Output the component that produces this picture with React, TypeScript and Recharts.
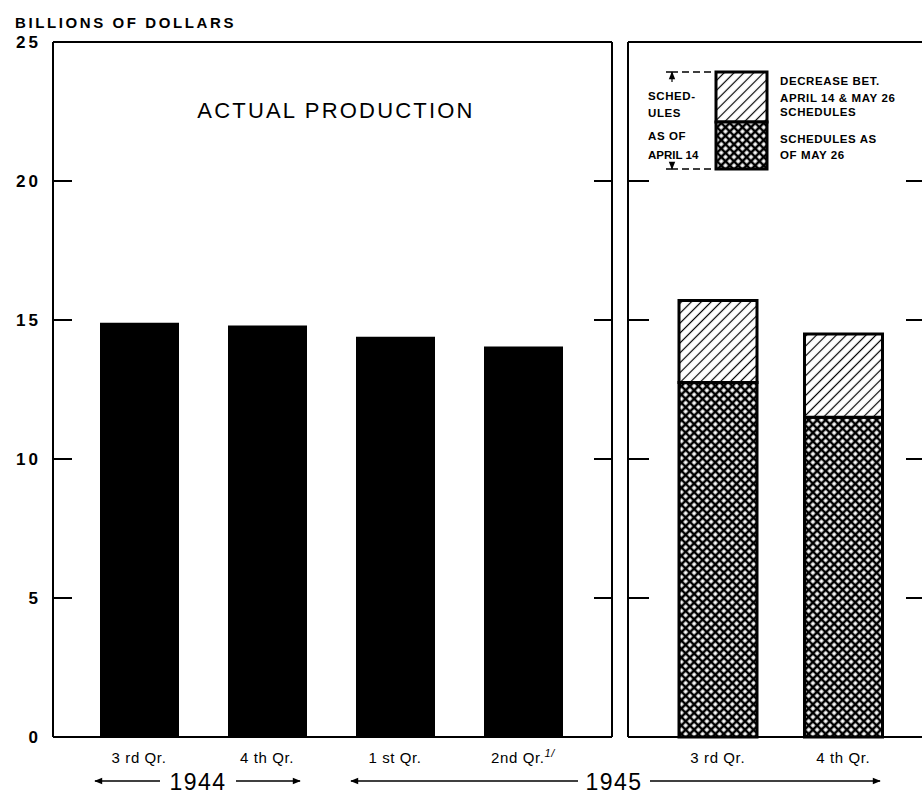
import { BarChart, Bar, XAxis, YAxis } from "recharts";

// values in billions of dollars
const actualQuarters = ["3 rd Qr.", "4 th  Qr.", "1 st  Qr.", "2nd  Qr."];
const actualProduction = [14.9, 14.8, 14.4, 14.05];

const scheduleQuarters = ["3 rd  Qr.", "4 th Qr."];
const schedulesApril14 = [15.7, 14.5];
const schedulesMay26 = [12.75, 11.5];

const yTicks = [0, 5, 10, 15, 20, 25];
const innerTicks = [5, 10, 15, 20];

const actualData = actualQuarters.map((q, i) => ({ q, value: actualProduction[i] }));
const scheduleData = scheduleQuarters.map((q, i) => ({
  q,
  may26: schedulesMay26[i],
  decrease: +(schedulesApril14[i] - schedulesMay26[i]).toFixed(2),
}));

const FONT = "'Liberation Sans', Arial, sans-serif";
const line = { stroke: "#000", strokeWidth: 2 };
const noLabel = () => <g />;

function QuarterTick(props: any) {
  const { x, y, payload } = props;
  const prelim = payload.value.startsWith("2nd");
  return (
    <text
      x={x}
      y={y + 18}
      textAnchor="middle"
      fontFamily={FONT}
      fontSize={15}
      letterSpacing={0.6}
      fill="#000"
    >
      {payload.value}
      {prelim && (
        <tspan dy={-6} fontSize={11} fontStyle="italic">
          1/
        </tspan>
      )}
    </text>
  );
}

function Patterns() {
  return (
    <svg width={0} height={0} style={{ position: "absolute" }}>
      <defs>
        <pattern id="hatch" width={7} height={7} patternUnits="userSpaceOnUse" patternTransform="rotate(45)">
          <rect width={7} height={7} fill="#fff" />
          <path d="M3.5 0 V7" stroke="#000" strokeWidth={1.2} />
        </pattern>
        <pattern id="xhatch" width={6} height={6} patternUnits="userSpaceOnUse" patternTransform="rotate(45)">
          <rect width={6} height={6} fill="#fff" />
          <path d="M3 0 V6 M0 3 H6" stroke="#000" strokeWidth={2.6} />
        </pattern>
        <marker id="arrow" viewBox="0 0 10 10" refX={9} refY={5} markerWidth={10} markerHeight={8} orient="auto-start-reverse" markerUnits="userSpaceOnUse">
          <path d="M0 1 L10 5 L0 9 Z" fill="#000" />
        </marker>
      </defs>
    </svg>
  );
}

// axes that only carry the inward tick marks of the frame
function innerAxis(id: string, side: "left" | "right", size: number) {
  return (
    <YAxis
      yAxisId={id}
      orientation={side}
      type="number"
      domain={[0, 25]}
      allowDataOverflow
      ticks={innerTicks}
      interval={0}
      mirror
      axisLine={line}
      tick={noLabel}
      tickSize={size}
      tickLine={line}
    />
  );
}

function ActualChart() {
  return (
    <BarChart width={622} height={794} data={actualData} margin={{ top: 41, right: 10, bottom: 27, left: 23 }}>
      <XAxis
        xAxisId="b"
        dataKey="q"
        axisLine={line}
        tickLine={false}
        height={30}
        interval={0}
        padding={{ left: 22, right: 25 }}
        tick={<QuarterTick />}
      />
      <XAxis xAxisId="t" dataKey="q" orientation="top" axisLine={line} tickLine={false} tick={false} height={1} padding={{ left: 22, right: 25 }} />
      <YAxis
        yAxisId="l"
        type="number"
        domain={[0, 25]}
        ticks={yTicks}
        interval={0}
        width={30}
        axisLine={line}
        tickLine={false}
        tickSize={0}
        tickMargin={12}
        tick={{ fill: "#000", fontFamily: FONT, fontSize: 17, fontWeight: 700, letterSpacing: 3 }}
      />
      {innerAxis("li", "left", 19)}
      {innerAxis("r", "right", 18)}
      <Bar xAxisId="b" yAxisId="l" dataKey="value" fill="#000" barSize={79} isAnimationActive={false} />
    </BarChart>
  );
}

function ScheduleChart() {
  return (
    <BarChart width={310} height={794} data={scheduleData} margin={{ top: 41, right: 6, bottom: 27, left: 6 }}>
      <XAxis
        xAxisId="b"
        dataKey="q"
        axisLine={line}
        tickLine={false}
        height={30}
        interval={0}
        padding={{ left: 27, right: 20 }}
        tick={<QuarterTick />}
      />
      <XAxis xAxisId="t" dataKey="q" orientation="top" axisLine={line} tickLine={false} tick={false} height={1} padding={{ left: 27, right: 20 }} />
      <YAxis yAxisId="l" type="number" domain={[0, 25]} ticks={innerTicks} interval={0} mirror axisLine={line} tick={noLabel} tickSize={21} tickLine={line} />
      {innerAxis("r", "right", 20)}
      <Bar xAxisId="b" yAxisId="l" stackId="s" dataKey="may26" fill="url(#xhatch)" stroke="#000" strokeWidth={3} barSize={78} isAnimationActive={false} />
      <Bar xAxisId="b" yAxisId="l" stackId="s" dataKey="decrease" fill="url(#hatch)" stroke="#000" strokeWidth={3} barSize={78} isAnimationActive={false} />
    </BarChart>
  );
}

const small = { fontFamily: FONT, fontSize: 11.5, fontWeight: 700, letterSpacing: 0.6, fill: "#000" } as const;

function Annotations() {
  return (
    <svg width={922} height={794} style={{ position: "absolute", left: 0, top: 0, pointerEvents: "none" }}>
      <text x={15} y={28} fontFamily={FONT} fontSize={15} fontWeight={700} letterSpacing={2.6} fill="#000">
        BILLIONS OF DOLLARS
      </text>
      <text x={336} y={118} textAnchor="middle" fontFamily={FONT} fontSize={22} letterSpacing={2.2} fill="#000">
        ACTUAL PRODUCTION
      </text>

      {/* legend */}
      <rect x={716} y={72} width={51} height={50} fill="url(#hatch)" stroke="#000" strokeWidth={3} />
      <rect x={716} y={122} width={51} height={47} fill="url(#xhatch)" stroke="#000" strokeWidth={3} />
      <text x={780} y={85} {...small}>DECREASE BET.</text>
      <text x={780} y={102} {...small}>APRIL 14 &amp; MAY 26</text>
      <text x={780} y={116} {...small}>SCHEDULES</text>
      <text x={780} y={143} {...small}>SCHEDULES AS</text>
      <text x={780} y={159} {...small}>OF MAY 26</text>
      <text x={648} y={100} {...small}>SCHED-</text>
      <text x={648} y={117} {...small}>ULES</text>
      <text x={648} y={140} {...small}>AS OF</text>
      <text x={648} y={159} {...small} letterSpacing={0}>APRIL 14</text>
      <line x1={672} y1={82} x2={672} y2={72} stroke="#000" strokeWidth={1.2} markerEnd="url(#arrow)" />
      <line x1={666} y1={72} x2={678} y2={72} stroke="#000" strokeWidth={1.5} />
      <line x1={682} y1={72} x2={715} y2={72} stroke="#000" strokeWidth={1.5} strokeDasharray="7 4" />
      <line x1={672} y1={162} x2={672} y2={169} stroke="#000" strokeWidth={1.2} markerEnd="url(#arrow)" />
      <line x1={666} y1={169} x2={678} y2={169} stroke="#000" strokeWidth={1.5} />
      <line x1={682} y1={169} x2={715} y2={169} stroke="#000" strokeWidth={1.5} strokeDasharray="7 4" />

      {/* year spans */}
      <line x1={160} y1={781} x2={95} y2={781} stroke="#000" strokeWidth={1.5} markerEnd="url(#arrow)" />
      <text x={198} y={790} textAnchor="middle" fontFamily={FONT} fontSize={23} letterSpacing={1.5} fill="#000">1944</text>
      <line x1={236} y1={781} x2={300} y2={781} stroke="#000" strokeWidth={1.5} markerEnd="url(#arrow)" />
      <line x1={578} y1={781} x2={351} y2={781} stroke="#000" strokeWidth={1.5} markerEnd="url(#arrow)" />
      <text x={614} y={790} textAnchor="middle" fontFamily={FONT} fontSize={23} letterSpacing={1.5} fill="#000">1945</text>
      <line x1={650} y1={781} x2={880} y2={781} stroke="#000" strokeWidth={1.5} markerEnd="url(#arrow)" />
    </svg>
  );
}

export default function App() {
  return (
    <div style={{ position: "fixed", left: 0, top: 0, width: 922, height: 794, overflow: "hidden", background: "#fff" }}>
      <Patterns />
      <div style={{ position: "absolute", left: 0, top: 0 }}>
        <ActualChart />
      </div>
      <div style={{ position: "absolute", left: 622, top: 0 }}>
        <ScheduleChart />
      </div>
      <Annotations />
    </div>
  );
}
